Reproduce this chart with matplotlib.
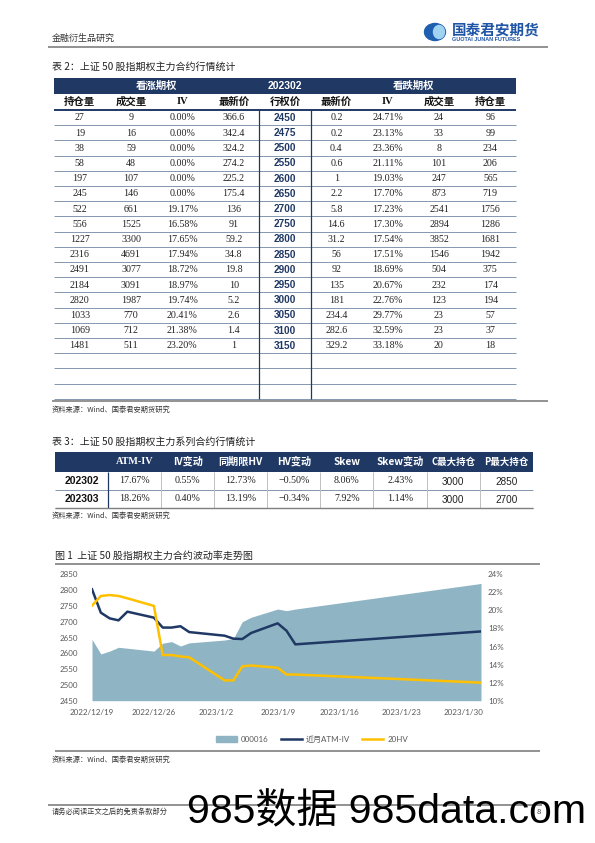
import numpy as np
import pandas as pd
import matplotlib
matplotlib.use("Agg")
import matplotlib.pyplot as plt
from matplotlib.patches import Rectangle, Ellipse, Patch
from matplotlib.lines import Line2D

CJK = ['Noto Sans CJK SC', 'DejaVu Sans']
SERIF = ['Liberation Serif', 'Noto Sans CJK SC']
SANS = ['Liberation Sans', 'Noto Sans CJK SC']
NAVY = '#1f3864'
GRAY_TXT = '#595959'

# ---- table 2 data ----
t2_cols = ["持仓量", "成交量", "IV", "最新价", "行权价", "最新价", "IV", "成交量", "持仓量"]
call_oi = [27, 19, 38, 58, 197, 245, 522, 556, 1227, 2316, 2491, 2184, 2820, 1033, 1069, 1481]
call_vol = [9, 16, 59, 48, 107, 146, 661, 1525, 3300, 4691, 3077, 3091, 1987, 770, 712, 511]
call_iv = ["0.00%", "0.00%", "0.00%", "0.00%", "0.00%", "0.00%", "19.17%", "16.58%", "17.65%",
           "17.94%", "18.72%", "18.97%", "19.74%", "20.41%", "21.38%", "23.20%"]
call_px = ["366.6", "342.4", "324.2", "274.2", "225.2", "175.4", "136", "91", "59.2", "34.8",
           "19.8", "10", "5.2", "2.6", "1.4", "1"]
strikes = [2450, 2475, 2500, 2550, 2600, 2650, 2700, 2750, 2800, 2850, 2900, 2950, 3000, 3050, 3100, 3150]
put_px = ["0.2", "0.2", "0.4", "0.6", "1", "2.2", "5.8", "14.6", "31.2", "56", "92", "135", "181",
          "234.4", "282.6", "329.2"]
put_iv = ["24.71%", "23.13%", "23.36%", "21.11%", "19.03%", "17.70%", "17.23%", "17.30%", "17.54%",
          "17.51%", "18.69%", "20.67%", "22.76%", "29.77%", "32.59%", "33.18%"]
put_vol = [24, 33, 8, 101, 247, 873, 2541, 2894, 3852, 1546, 504, 232, 123, 23, 23, 20]
put_oi = [96, 99, 234, 206, 565, 719, 1756, 1286, 1681, 1942, 375, 174, 194, 57, 37, 18]
n_empty = 3

# ---- table 3 data ----
t3_cols = ["", "ATM-IV", "IV变动", "同期限HV", "HV变动", "Skew", "Skew变动", "C最大持仓", "P最大持仓"]
t3_rows = ["202302", "202303"]
t3_vals = [["17.67%", "0.55%", "12.73%", "-0.50%", "8.06%", "2.43%", "3000", "2850"],
           ["18.26%", "0.40%", "13.19%", "-0.34%", "7.92%", "1.14%", "3000", "2700"]]

# ---- figure 1 data ----
dates = ["2022-12-19", "2022-12-20", "2022-12-21", "2022-12-22", "2022-12-23", "2022-12-26",
         "2022-12-27", "2022-12-28", "2022-12-29", "2022-12-30", "2023-01-03", "2023-01-04",
         "2023-01-05", "2023-01-06", "2023-01-09", "2023-01-10", "2023-01-11", "2023-02-01"]
index_000016 = [2644, 2598, 2607, 2619, 2616, 2607, 2632, 2637, 2623, 2633, 2642, 2647,
                2700, 2714, 2740, 2735, 2740, 2821]
atm_iv = [22.34, 19.75, 19.12, 18.90, 19.86, 19.20, 18.10, 18.10, 18.25, 17.60, 17.20, 16.87,
          16.83, 17.50, 18.57, 17.75, 16.24, 17.67]
hv20 = [20.53, 21.60, 21.70, 21.60, 21.34, 20.50, 15.06, 15.06, 14.90, 14.80, 12.25, 12.25,
        13.80, 13.90, 13.65, 12.90, 12.90, 12.00]
x_ticks = ["2022-12-19", "2022-12-26", "2023-01-02", "2023-01-09", "2023-01-16", "2023-01-23", "2023-01-30"]

fig = plt.figure(figsize=(5.95, 8.43), dpi=100)
page = fig.add_axes([0, 0, 1, 1])
page.set_xlim(0, 595)
page.set_ylim(843, 0)
page.axis('off')


def txt(x, y, s, size, family=CJK, **kw):
    kw.setdefault('va', 'center')
    return page.text(x, y, s, fontsize=size, family=family, **kw)


def hline(y, x0, x1, color, lw):
    page.plot([x0, x1], [y, y], color=color, lw=lw, solid_capstyle='butt')


def vline(x, y0, y1, color, lw):
    page.plot([x, x], [y0, y1], color=color, lw=lw, solid_capstyle='butt')


# page header
txt(52, 38, "金融衍生品研究", 6.5, color='#333333')
page.add_patch(Ellipse((435, 32), 21, 17, color='#1f5fb0'))
page.add_patch(Ellipse((439, 32), 11, 13, color='#9fd3ef'))
txt(452, 29.5, "国泰君安期货", 10.5, color='#1f55a5', weight='bold')
txt(452, 39.5, "GUOTAI JUNAN FUTURES", 3.9, family=SANS, color='#1f55a5', weight='bold')
hline(47, 48, 548, '#7f7f7f', 1.2)

# ---- table 2 ----
txt(52, 67, "表 2：上证 50 股指期权主力合约行情统计", 7.2, color='#222222')
tx0, tx1 = 54, 516
colw = (tx1 - tx0) / 9
cx = [tx0 + colw * (i + 0.5) for i in range(9)]
h1_top, h1_bot, h2_bot = 78.3, 93.8, 110
pitch = 15.2
page.add_patch(Rectangle((tx0, h1_top), tx1 - tx0, h1_bot - h1_top, color=NAVY, lw=0))
hy = (h1_top + h1_bot) / 2
txt(cx[1] + colw / 2, hy, "看涨期权", 7.5, color='white', weight='bold', ha='center')
txt(cx[4], hy, "202302", 7.5, family=SANS, color='white', weight='bold', ha='center')
txt(cx[6] + colw / 2, hy, "看跌期权", 7.5, color='white', weight='bold', ha='center')
for i, c in enumerate(t2_cols):
    txt(cx[i], (h1_bot + h2_bot) / 2, c, 7.5, family=SERIF if c == "IV" else CJK,
        color='#111111', weight='bold', ha='center')
hline(h2_bot, tx0, tx1, NAVY, 1.4)

n_rows = len(strikes) + n_empty
for r in range(len(strikes)):
    yc = h2_bot + pitch * (r + 0.5) + 0.3
    cells = [call_oi[r], call_vol[r], call_iv[r], call_px[r], None,
             put_px[r], put_iv[r], put_vol[r], put_oi[r]]
    for i, v in enumerate(cells):
        if v is None:
            txt(cx[i], yc, str(strikes[r]), 7.2, family=SANS, color=NAVY, weight='bold', ha='center')
        else:
            txt(cx[i], yc, str(v), 7.2, family=SERIF, color='#222222', ha='center')
for r in range(n_rows):
    hline(h2_bot + pitch * (r + 1), tx0, tx1, '#8497b0', 0.7)
t2_bot = h2_bot + pitch * n_rows
vline(tx0 + colw * 4, h2_bot, t2_bot, NAVY, 0.9)
vline(tx0 + colw * 5, h2_bot, t2_bot, NAVY, 0.9)
hline(401, 52, 548, '#7f7f7f', 1.2)
txt(52, 409.5, "资料来源：Wind、国泰君安期货研究", 5.2, color='#333333')

# ---- table 3 ----
txt(52, 442, "表 3：上证 50 股指期权主力系列合约行情统计", 7.2, color='#222222')
sx0, sx1 = 55, 532.7
sw = (sx1 - sx0) / 9
scx = [sx0 + sw * (i + 0.5) for i in range(9)]
s_top, s_hbot = 451.7, 471.7
s_row = 17.9
page.add_patch(Rectangle((sx0, s_top), sx1 - sx0, s_hbot - s_top, color=NAVY, lw=0))
for i, c in enumerate(t3_cols):
    fam = SERIF if c == "ATM-IV" else CJK
    size = 6.8 if c.endswith("最大持仓") else 7.3
    txt(scx[i], (s_top + s_hbot) / 2, c, size, family=fam, color='white', weight='bold', ha='center')
for r, name in enumerate(t3_rows):
    yc = s_hbot + s_row * (r + 0.5)
    txt(scx[0], yc, name, 7.5, family=SANS, color='#111111', weight='bold', ha='center')
    for i, v in enumerate(t3_vals[r]):
        fam = SANS if i >= 6 else SERIF
        txt(scx[i + 1], yc + (1.2 if i >= 6 else 0), v.replace("-", "−"), 7.2, family=fam,
            color='#222222', ha='center')
    hline(s_hbot + s_row * (r + 1), sx0, sx1, '#8497b0', 0.7)
vline(sx0 + sw, s_hbot, s_hbot + 2 * s_row, NAVY, 0.9)
for i in range(2, 9):
    vline(sx0 + sw * i, s_hbot, s_hbot + 2 * s_row, '#bfbfbf', 0.7)
hline(s_hbot + 2 * s_row + 0.8, sx0, sx1, '#7f7f7f', 1.0)
txt(52, 515.5, "资料来源：Wind、国泰君安期货研究", 5.2, color='#333333')

# ---- figure 1 ----
txt(55, 555.7, "图 1  上证 50 股指期权主力合约波动率走势图", 7.2, color='#222222')
hline(564.3, 55, 540, '#7f7f7f', 1.2)
hline(750.7, 55, 540, '#7f7f7f', 1.2)
txt(52, 760, "资料来源：Wind、国泰君安期货研究", 5.2, color='#333333')

d = pd.to_datetime(dates)
ax = fig.add_axes([92 / 595, 1 - 700.7 / 843, 389 / 595, 126.4 / 843])
ax.fill_between(d, index_000016, 2450, color='#8fb4c4', lw=0)
ax.set_ylim(2450, 2850)
ax.set_yticks(np.arange(2450, 2851, 50))
ax.set_xlim(d[0], d[-1])
ax2 = ax.twinx()
ax2.plot(d, atm_iv, color=NAVY, lw=1.8)
ax2.plot(d, hv20, color='#ffc000', lw=1.8)
ax2.set_ylim(10, 24)
ax2.set_yticks(np.arange(10, 25, 2))
ax2.set_yticklabels([f"{v}%" for v in range(10, 25, 2)])
xt = pd.to_datetime(x_ticks)
ax.set_xticks(xt)
ax.set_xticklabels([f"{t.year}/{t.month}/{t.day}" for t in xt])
for a in (ax, ax2):
    for s in a.spines.values():
        s.set_visible(False)
    a.tick_params(length=0, labelsize=5.8, labelcolor=GRAY_TXT)
    for lab in a.get_xticklabels() + a.get_yticklabels():
        lab.set_family(['Lato', 'DejaVu Sans'])
ax.tick_params(axis='y', pad=10)
ax.tick_params(axis='x', pad=6)
ax2.tick_params(axis='y', pad=5)

handles = [Patch(color='#8fb4c4'), Line2D([], [], color=NAVY, lw=1.8),
           Line2D([], [], color='#ffc000', lw=1.8)]
leg = fig.legend(handles, ["000016", "近月ATM-IV", "20HV"], loc='center',
                 bbox_to_anchor=(312 / 595, 1 - 739 / 843), ncol=3, frameon=False,
                 prop={'family': ['Lato', 'Noto Sans CJK SC'], 'size': 5.8},
                 handlelength=2.6, columnspacing=1.5, handletextpad=0.5)
for t in leg.get_texts():
    t.set_color(GRAY_TXT)

# ---- footer ----
hline(805, 48, 542, '#7f7f7f', 1.2)
txt(52, 812, "请务必阅读正文之后的免责条款部分", 5.2, color='#333333')
txt(537, 812, "8", 5.5, color='#333333', zorder=1)
txt(187, 823, "985数据 985data.com", 29.5, family=SANS, color='black', va='baseline', zorder=3)

fig.savefig('out.png', dpi=100)
